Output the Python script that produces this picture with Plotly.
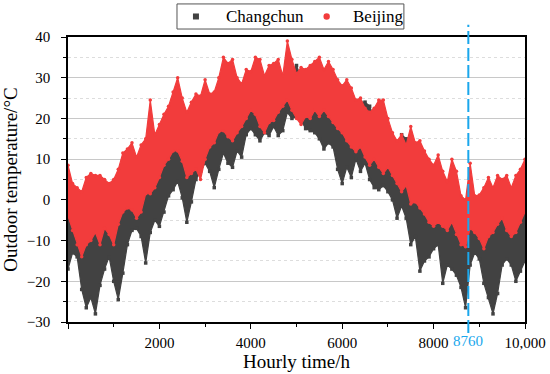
import plotly.graph_objects as go

# sampling grid (hours)
hours = list(range(0, 10001, 100))

# Beijing upper / lower envelope (deg C)
bj_hi = [8.5, 4, 3, 2, 5.5, 6.5, 6, 6, 5, 4,
         5, 7.5, 11.5, 12.5, 14, 10.5, 13.5, 15, 24.5, 16,
         18.5, 21, 23, 26.5, 30, 25, 21.5, 24, 26, 25.5,
         29.5, 26, 26.5, 30, 35, 33.5, 34.5, 30, 28.5, 32,
         31.5, 35, 34.5, 30.5, 33, 33.5, 34.5, 30.5, 39, 34.5,
         31, 32.5, 32, 33, 34, 35, 32, 34, 32, 29.5,
         28, 29.5, 27.5, 24.5, 25, 22.5, 21.5, 22.5, 24.5, 24.5,
         20, 16.5, 14.5, 16, 13.5, 18, 14, 14.5, 12, 10,
         8.5, 11, 7, 4.5, 10, 7, 1, 0, 9, 1,
         1.2, 3, 5.5, 3, 6, 5, 6, 3, 6, 7.5,
         10]
bj_lo = [-4, -7.5, -11, -14, -11, -10, -8, -11, -7, -8.5,
         -11, -6, -3, -2, -2.5, -4.5, -3, 1.5, 1.5, 3,
         5.5, 8.5, 10, 12, 12, 9.5, 5.5, 6.5, 7.5, 5,
         10, 13, 14, 16.7, 17, 15.5, 14.5, 16.5, 18, 20,
         22, 21, 18, 16.5, 19, 19.5, 21.5, 23, 24.5, 22,
         20, 18.5, 20.5, 20, 22, 20.5, 22, 20.5, 19, 17.5,
         16.5, 14.5, 13, 11.8, 13, 10.5, 8.5, 10, 8, 6.5,
         8, 6, 4, 2, 3.5, -1, -0.5, -2, -3.5, -5.5,
         -6.5, -5.5, -6.5, -7.5, -5.5, -8.5, -11, -11.5, -7, -8,
         -9.5, -12, -9, -8, -6, -4.5, -7.5, -9, -8, -5.5,
         -3]

# Changchun upper / lower envelope (deg C)
cc_hi = [3, -2, -3, -6, -2, -3, -3, -2, -3, -4,
         -3, 0, 3, 5, 8, 5, 6, 8, 10, 10,
         12, 14, 19, 20, 22, 20, 17, 21, 22, 21,
         24, 22, 22, 26, 30, 29, 28, 26, 25, 28,
         28, 30, 29, 27, 29, 29, 30, 28, 30, 31,
         33, 30, 29, 30, 30, 29, 28, 29, 28, 26,
         25, 26, 24, 23, 24, 24, 23, 20, 21, 21,
         18, 14, 12, 16, 15, 13, 10, 10, 7, 5,
         3, 4, 1, 0, 2, 0, -4, -5, -1, -4,
         -4, -3, -2, -4, -2, -2, -1, -4, -2, 0,
         2]
cc_lo = [-17, -13, -14, -22, -26.5, -24, -28, -21, -17, -14,
         -20, -24.5, -18, -11, -7.5, -7, -9, -15.5, -8, -5,
         -6.5, -3, 1, 2.5, 4.5, 0.5, -5.5, -0.5, 5, 7,
         9, 7, 3, 7.5, 11.5, 9, 8, 12, 10.5, 16,
         17.5, 16, 14.5, 16.5, 15.8, 18, 15.8, 17, 21.5, 20,
         20.5, 19.5, 17.5, 17, 16.5, 15, 12.5, 14, 13, 7.5,
         4, 8, 5.5, 10, 7, 9, 5, 3, 2.5, 3.5,
         2, 0, -4.5, -1.5, -4.5, -11, -9, -17.5, -15, -14,
         -12, -11, -20.5, -16, -17, -18.5, -21.5, -26.5, -16, -13,
         -14.5, -20.5, -24, -28, -23, -16, -14.5, -16, -20, -17.5,
         -15]

series_names = ["Changchun", "Beijing"]
x_tickvals = [0, 2000, 4000, 6000, 8000, 10000]
x_ticktext = ["", "2000", "4000", "6000", "8000", "10,000"]
y_tickvals = [-30, -20, -10, 0, 10, 20, 30, 40]
marker_hour = 8760

DARK = "#424242"
RED = "#f23c3c"
BLUE = "#1aa7ec"
FONT = "Liberation Serif, Times New Roman, Times, serif"

fig = go.Figure()

def band(lo, hi, color, symbol, name):
    fig.add_trace(go.Scatter(x=hours, y=lo, mode="lines+markers", name=name,
                             line=dict(color=color, width=1.2),
                             marker=dict(color=color, size=3.5, symbol=symbol),
                             showlegend=False, hoverinfo="skip"))
    fig.add_trace(go.Scatter(x=hours, y=hi, mode="lines+markers", name=name,
                             line=dict(color=color, width=1.2),
                             marker=dict(color=color, size=3.5, symbol=symbol),
                             fill="tonexty", fillcolor=color,
                             showlegend=False, hoverinfo="skip"))

band(cc_lo, cc_hi, DARK, "square", series_names[0])
band(bj_lo, bj_hi, RED, "circle", series_names[1])

# dashed marker line at 8760 h
fig.add_shape(type="line", xref="x", yref="paper", x0=marker_hour, x1=marker_hour,
              y0=-0.039, y1=1.043, line=dict(color=BLUE, width=2, dash="13px,4px"))
fig.add_annotation(x=marker_hour, y=0, xref="x", yref="paper", yanchor="top",
                   yshift=-9, text=str(marker_hour), showarrow=False,
                   font=dict(family=FONT, size=15, color=BLUE))

# legend box (drawn so its size matches the reference)
fig.add_shape(type="rect", xref="paper", yref="paper", x0=0.2385, x1=0.735,
              y0=1.028, y1=1.116, line=dict(color="#555555", width=1),
              fillcolor="white", layer="above")
fig.add_shape(type="rect", xref="paper", yref="paper", xsizemode="pixel", ysizemode="pixel",
              xanchor=0.280, yanchor=1.072, x0=-3, x1=3, y0=-3, y1=3,
              line=dict(width=0), fillcolor=DARK, layer="above")
fig.add_shape(type="circle", xref="paper", yref="paper", xsizemode="pixel", ysizemode="pixel",
              xanchor=0.566, yanchor=1.072, x0=-3.2, x1=3.2, y0=-3.2, y1=3.2,
              line=dict(width=0), fillcolor=RED, layer="above")
fig.add_annotation(x=0.341, y=1.072, xref="paper", yref="paper", xanchor="left",
                   yanchor="middle", text=series_names[0], showarrow=False,
                   font=dict(family=FONT, size=17, color="black"))
fig.add_annotation(x=0.619, y=1.072, xref="paper", yref="paper", xanchor="left",
                   yanchor="middle", text=series_names[1], showarrow=False,
                   font=dict(family=FONT, size=17, color="black"))

fig.update_layout(
    width=550, height=374,
    margin=dict(l=68, r=25, t=37, b=52, autoexpand=False),
    paper_bgcolor="white", plot_bgcolor="white",
    font=dict(family=FONT, size=15, color="black"),
    showlegend=False,
)
fig.update_xaxes(range=[0, 10000], tickvals=x_tickvals, ticktext=x_ticktext,
                 ticks="outside", ticklen=5, tickwidth=1.2, tickcolor="black",
                 showline=True, linecolor="black", linewidth=1.5, mirror=True,
                 showgrid=False, zeroline=False,
                 minor=dict(dtick=1000, tick0=0, ticks="outside", ticklen=3, tickcolor="black", showgrid=False),
                 title=dict(text="Hourly time/h", font=dict(family=FONT, size=19), standoff=4),
                 tickfont=dict(family=FONT, size=15), ticklabelstandoff=1)
fig.update_yaxes(range=[-30, 40], tickvals=y_tickvals,
                 ticks="outside", ticklen=5, tickwidth=1.2, tickcolor="black",
                 showline=True, linecolor="black", linewidth=1.5, mirror=True,
                 showgrid=True, gridcolor="#c8c8c8", gridwidth=1, zeroline=False,
                 minor=dict(dtick=5, tick0=0, ticks="outside", ticklen=3, tickcolor="black",
                            showgrid=True, gridcolor="#dddddd", griddash="dot", gridwidth=1),
                 title=dict(text="Outdoor temperature/°C", font=dict(family=FONT, size=19), standoff=4),
                 tickfont=dict(family=FONT, size=15), ticklabelstandoff=8)

fig.write_html("out.html", config={"displayModeBar": False},
               post_script="document.body.style.margin='0';")
